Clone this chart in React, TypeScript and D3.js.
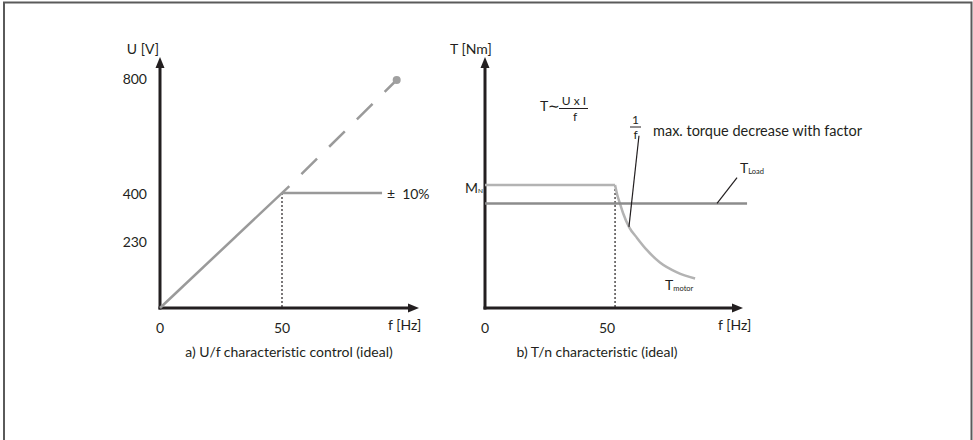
import React from 'react';
import * as d3 from 'd3';

// ---------- data ----------
const uTicks = [800, 400, 230];
const fTicks = [0, 50];
const ufSolid: [number, number][] = [[0, 0], [53, 424]];
const ufDashed: [number, number][] = [[53, 424], [97, 793]];
const ufLimit: [number, number][] = [[50, 400], [91, 400]];
const ufEnd: [number, number] = [97, 793];
const ufKnee: [number, number] = [50, 400];

const mnLine: [number, number][] = [[0, 100], [53.3, 100]];
const tMotor: [number, number][] = [
  [53.3, 100], [54.2, 92], [55.3, 85], [56.6, 77], [59.0, 66], [62.3, 57],
  [66.4, 47], [71.7, 37], [78.7, 29], [86.1, 24],
];
const tLoad: [number, number][] = [[0, 85], [107.4, 85]];
const tKnee: [number, number] = [53.3, 100];
const oneOverFLeader: [number, number][] = [[59.0, 66], [63.1, 140]];
const tLoadLeader: [number, number][] = [[95.1, 85], [103.3, 106]];

const FONT = 'Lato, "Open Sans", sans-serif';
const INK = '#231f20';

export default function App() {
  const xL = d3.scaleLinear().domain([0, 50]).range([160, 282]);
  const yL = d3.scaleLinear().domain([0, 800]).range([308, 78]);
  const xR = d3.scaleLinear().domain([0, 50]).range([485, 607]);
  const yR = d3.scaleLinear().domain([0, 100]).range([308, 185]);

  const lineL = d3.line<[number, number]>().x(d => xL(d[0])).y(d => yL(d[1]));
  const lineR = d3.line<[number, number]>().x(d => xR(d[0])).y(d => yR(d[1]));
  const curveR = d3.line<[number, number]>().x(d => xR(d[0])).y(d => yR(d[1])).curve(d3.curveMonotoneX);

  const axes = (x0: number, y0: number, xEnd: number, yTop: number) => (
    <g>
      <line x1={x0} y1={y0 + 1.5} x2={x0} y2={yTop + 9} stroke={INK} strokeWidth={3} />
      <path d={`M${x0 - 4.5},${yTop + 11} L${x0},${yTop} L${x0 + 4.5},${yTop + 11} Z`} fill={INK} />
      <line x1={x0 - 1.5} y1={y0} x2={xEnd - 9} y2={y0} stroke={INK} strokeWidth={3} />
      <path d={`M${xEnd - 11},${y0 - 4.5} L${xEnd},${y0} L${xEnd - 11},${y0 + 4.5} Z`} fill={INK} />
    </g>
  );

  return (
    <svg width={973} height={440}
      style={{ position: 'absolute', left: 0, top: 0, background: '#fff', fontVariantLigatures: 'none' }}
      fontFamily={FONT} fill={INK}>
      {/* frame */}
      <path d="M4,440 L4,2.5 L971.5,2.5 L971.5,440" fill="none" stroke="#5a5a5a" strokeWidth={2} />

      {/* ---------- left chart ---------- */}
      {axes(xL(0), yL(0), 419, 57)}
      <line x1={xL(ufKnee[0])} y1={yL(ufKnee[1])} x2={xL(ufKnee[0])} y2={yL(0)}
        stroke={INK} strokeWidth={1.2} strokeDasharray="2,2" />
      <path d={lineL(ufSolid)!} fill="none" stroke="#9a9a9a" strokeWidth={2.5} />
      <path d={lineL(ufLimit)!} fill="none" stroke="#999" strokeWidth={2.5} />
      <path d={lineL(ufDashed)!} fill="none" stroke="#9a9a9a" strokeWidth={2.5}
        strokeDasharray="22,17" strokeDashoffset={22} />
      <circle cx={xL(ufEnd[0])} cy={yL(ufEnd[1])} r={4} fill="#a0a0a0" />

      {uTicks.map(v => (
        <text key={v} x={147} y={yL(v)} textAnchor="end" dominantBaseline="central" fontSize={14}>{v}</text>
      ))}
      {fTicks.map(v => (
        <text key={v} x={xL(v)} y={327} textAnchor="middle" dominantBaseline="central" fontSize={14}>{v}</text>
      ))}
      <text x={159} y={48} textAnchor="end" dominantBaseline="central" fontSize={14}>U [V]</text>
      <text x={388} y={324} dominantBaseline="central" fontSize={14}>f [Hz]</text>
      <text x={387} y={193} dominantBaseline="central" fontSize={14}>±<tspan dx={7}>10%</tspan></text>
      <text x={289} y={351} textAnchor="middle" dominantBaseline="central" fontSize={14}>a) U/f characteristic control (ideal)</text>

      {/* ---------- right chart ---------- */}
      {axes(xR(0), yR(0), 743, 57)}
      <line x1={xR(tKnee[0])} y1={yR(tKnee[1])} x2={xR(tKnee[0])} y2={yR(0)}
        stroke={INK} strokeWidth={1.2} strokeDasharray="2,2" />
      <path d={lineR(mnLine)!} fill="none" stroke="#b3b3b3" strokeWidth={2.5} />
      <path d={curveR(tMotor)!} fill="none" stroke="#b3b3b3" strokeWidth={2.5} />
      <path d={lineR(tLoad)!} fill="none" stroke="#8c8c8c" strokeWidth={2.5} />
      <path d={lineR(oneOverFLeader)!} fill="none" stroke={INK} strokeWidth={1.2} />
      <path d={lineR(tLoadLeader)!} fill="none" stroke={INK} strokeWidth={1.2} />

      {fTicks.map(v => (
        <text key={v} x={xR(v)} y={327} textAnchor="middle" dominantBaseline="central" fontSize={14}>{v}</text>
      ))}
      <text x={450} y={48} dominantBaseline="central" fontSize={14}>T [Nm]</text>
      <text x={718} y={324} dominantBaseline="central" fontSize={14}>f [Hz]</text>
      <text x={597} y={351} textAnchor="middle" dominantBaseline="central" fontSize={14}>b) T/n characteristic (ideal)</text>

      {/* M_N */}
      <text x={465} y={187} dominantBaseline="central" fontSize={14}>M<tspan fontSize={6.5} dy={3}>N</tspan></text>
      {/* T_Load */}
      <text x={740} y={167} dominantBaseline="central" fontSize={14}>T<tspan fontSize={7.5} dy={4}>Load</tspan></text>
      {/* T_motor */}
      <text x={665} y={284} dominantBaseline="central" fontSize={14}>T<tspan fontSize={7.5} dy={4}>motor</tspan></text>

      {/* formula T ~ U x I / f */}
      <text x={540} y={105} dominantBaseline="central" fontSize={14}>T∼</text>
      <text x={574} y={100.5} textAnchor="middle" dominantBaseline="central" fontSize={12}>U x I</text>
      <line x1={559} y1={108.5} x2={588} y2={108.5} stroke={INK} strokeWidth={1} />
      <text x={575} y={116} textAnchor="middle" dominantBaseline="central" fontSize={12}>f</text>

      {/* 1/f max torque */}
      <text x={635.5} y={119.5} textAnchor="middle" dominantBaseline="central" fontSize={12}>1</text>
      <line x1={630} y1={127} x2={641} y2={127} stroke={INK} strokeWidth={1} />
      <text x={635.5} y={134.5} textAnchor="middle" dominantBaseline="central" fontSize={12}>f</text>
      <text x={653} y={130} dominantBaseline="central" fontSize={14.5}>max. torque decrease with factor</text>
    </svg>
  );
}
